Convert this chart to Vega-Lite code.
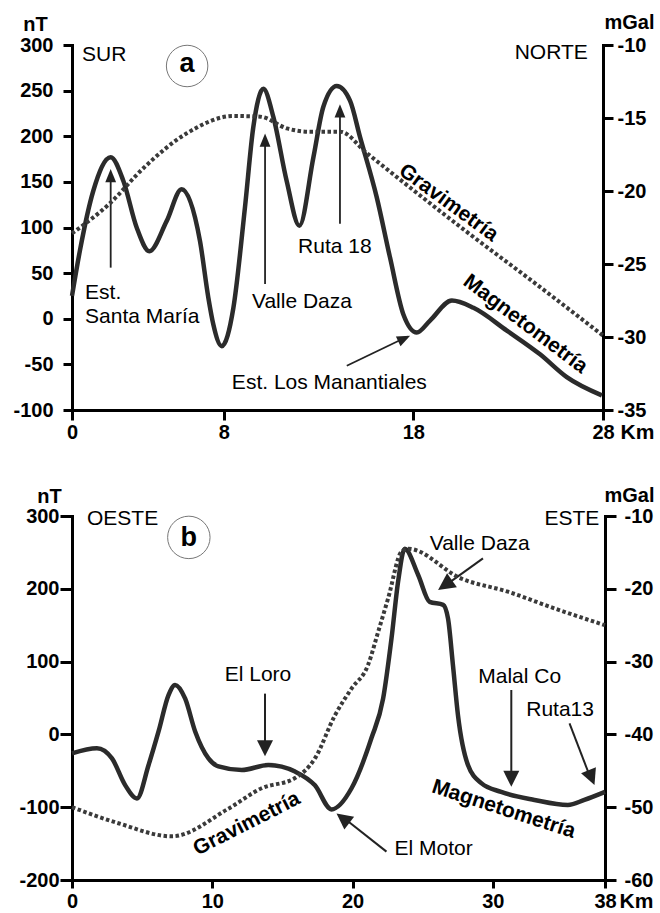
{
  "$schema": "https://vega.github.io/schema/vega-lite/v6.json",
  "background": "white",
  "padding": {"left": 12, "top": 12, "right": 2, "bottom": 0},
  "bounds": "flush",
  "spacing": 106,
  "config": {
    "view": {"stroke": null},
    "font": "Liberation Sans",
    "axis": {
      "grid": false, "domainColor": "black", "domainWidth": 3, "tickColor": "black", "tickWidth": 3,
      "labelFont": "Liberation Sans", "labelFontSize": 20, "labelFontWeight": "bold", "labelColor": "black",
      "titleFont": "Liberation Sans", "titleFontSize": 20, "titleFontWeight": "bold", "titleColor": "black",
      "labelFlush": false, "labelOverlap": false, "domainCap": "square",
      "labelExpr": "'' + datum.value"
    },
    "text": {"font": "Liberation Sans", "fontSize": 21, "color": "black"}
  },
  "vconcat": [
    {
      "width": 531, "height": 365,
      "encoding": {
        "x": {"field": "km", "type": "quantitative",
          "scale": {"domain": [0, 28], "nice": false, "zero": false},
          "axis": {"values": [0, 8, 18, 28], "tickSize": 10, "labelPadding": 2, "title": "Km", "titleAngle": 0, "titleX": 565, "titleY": 28, "titleAlign": "center", "titleBaseline": "alphabetic", "titleFontSize": 21}}
      },
      "layer": [
        {
          "encoding": {
            "y": {"field": "nT", "type": "quantitative",
              "scale": {"domain": [-100, 300], "nice": false, "zero": false},
              "axis": {"orient": "left", "values": [-100, -50, 0, 50, 100, 150, 200, 250, 300], "tickSize": 9, "labelPadding": 10, "title": "nT", "titleAngle": 0, "titleX": -37, "titleY": -15, "titleAlign": "center", "titleBaseline": "alphabetic"}}
          },
          "layer": [
            {
              "data": {"values": [
                {"km": 0, "nT": 25}, {"km": 0.42, "nT": 75}, {"km": 1.12, "nT": 140}, {"km": 2.04, "nT": 177},
                {"km": 2.71, "nT": 151}, {"km": 3.41, "nT": 100}, {"km": 4.08, "nT": 74}, {"km": 4.99, "nT": 107},
                {"km": 5.78, "nT": 142}, {"km": 6.75, "nT": 85}, {"km": 7.19, "nT": 23}, {"km": 7.45, "nT": -6},
                {"km": 7.9, "nT": -30}, {"km": 8.51, "nT": 12}, {"km": 9.12, "nT": 122}, {"km": 9.56, "nT": 210},
                {"km": 10.09, "nT": 252}, {"km": 10.62, "nT": 221}, {"km": 11.32, "nT": 151}, {"km": 11.99, "nT": 102},
                {"km": 12.73, "nT": 177}, {"km": 13.25, "nT": 232}, {"km": 13.96, "nT": 255}, {"km": 14.66, "nT": 239},
                {"km": 15.19, "nT": 199}, {"km": 16.07, "nT": 133}, {"km": 16.77, "nT": 67}, {"km": 17.47, "nT": 5},
                {"km": 18.18, "nT": -15}, {"km": 18.88, "nT": -2}, {"km": 20.03, "nT": 20}, {"km": 21.17, "nT": 12},
                {"km": 22.93, "nT": -13}, {"km": 24.68, "nT": -39}, {"km": 26.09, "nT": -64}, {"km": 27.94, "nT": -84}
              ]},
              "mark": {"type": "line", "interpolate": "monotone", "color": "#2b2b2b", "strokeWidth": 4.5}
            },
            {
              "data": {"values": [
                {"km": 2.04, "nT": 56, "km2": 2.04, "nT2": 160},
                {"km": 10.18, "nT": 38, "km2": 10.18, "nT2": 200},
                {"km": 14.13, "nT": 104, "km2": 14.13, "nT2": 232},
                {"km": 14.49, "nT": -51.5, "km2": 17.7, "nT2": -19.5}
              ]},
              "mark": {"type": "rule", "color": "#222", "strokeWidth": 1.8},
              "encoding": {"x2": {"field": "km2"}, "y2": {"field": "nT2"}}
            },
            {
              "data": {"values": [
                {"km": 2.04, "nT": 164}, {"km": 10.18, "nT": 203}, {"km": 14.13, "nT": 235}
              ]},
              "mark": {"type": "point", "shape": "M0,0L-0.45,1.1L0.45,1.1Z", "size": 576, "filled": true, "color": "#222", "opacity": 1, "strokeWidth": 0}
            },
            {
              "data": {"values": [{"km": 17.83, "nT": -18.6}]},
              "mark": {"type": "point", "shape": "M0,0L-0.45,1.1L0.45,1.1Z", "size": 576, "angle": 64.6, "filled": true, "color": "#222", "opacity": 1, "strokeWidth": 0}
            },
            {
              "data": {"values": [
                {"km": 0.53, "nT": 283, "label": "SUR"},
                {"km": 0.69, "nT": 22, "label": "Est.\nSanta María"},
                {"km": 9.49, "nT": 12, "label": "Valle Daza"},
                {"km": 11.92, "nT": 72, "label": "Ruta 18"},
                {"km": 8.43, "nT": -76.7, "label": "Est. Los Manantiales"}
              ]},
              "mark": {"type": "text", "align": "left", "baseline": "alphabetic", "lineBreak": "\n", "lineHeight": 24},
              "encoding": {"text": {"field": "label"}}
            },
            {
              "data": {"values": [{"km": 27.2, "nT": 285, "label": "NORTE"}]},
              "mark": {"type": "text", "align": "right", "baseline": "alphabetic"},
              "encoding": {"text": {"field": "label"}}
            },
            {
              "data": {"values": [{"km": 19.85, "nT": 127, "label": "Gravimetría"}]},
              "mark": {"type": "text", "align": "center", "baseline": "middle", "angle": 36, "fontWeight": "bold"},
              "encoding": {"text": {"field": "label"}}
            },
            {
              "data": {"values": [{"km": 23.9, "nT": -6, "label": "Magnetometría"}]},
              "mark": {"type": "text", "align": "center", "baseline": "middle", "angle": 37, "fontWeight": "bold"},
              "encoding": {"text": {"field": "label"}}
            },
            {
              "data": {"values": [{"km": 6.07, "nT": 277, "label": "a"}]},
              "layer": [
                {"mark": {"type": "point", "shape": "circle", "size": 1720, "filled": false, "stroke": "#777", "strokeWidth": 1, "opacity": 1}},
                {"mark": {"type": "text", "align": "center", "baseline": "middle", "fontSize": 27, "fontWeight": "bold", "dy": -2}, "encoding": {"text": {"field": "label"}}}
              ]
            }
          ]
        },
        {
          "data": {"values": [
            {"km": 0, "mGal": -22.9}, {"km": 2.0, "mGal": -20.84}, {"km": 3.76, "mGal": -18.44}, {"km": 6.05, "mGal": -16.05},
            {"km": 8.51, "mGal": -14.86}, {"km": 9.92, "mGal": -14.91}, {"km": 11.33, "mGal": -15.71}, {"km": 12.55, "mGal": -15.94},
            {"km": 14.14, "mGal": -15.94}, {"km": 15.54, "mGal": -17.4}, {"km": 20.82, "mGal": -22.8}, {"km": 24.5, "mGal": -26.4},
            {"km": 28, "mGal": -29.9}
          ]},
          "mark": {"type": "line", "interpolate": "monotone", "color": "#3a3a3a", "strokeWidth": 4, "strokeDash": [3.5, 2.5]},
          "encoding": {
            "y": {"field": "mGal", "type": "quantitative",
              "scale": {"domain": [-35, -10], "nice": false, "zero": false},
              "axis": {"orient": "right", "values": [-35, -30, -25, -20, -15, -10], "tickSize": 10, "labelPadding": 4, "title": "mGal", "titleAngle": 0, "titleX": 26, "titleY": -17, "titleAlign": "center", "titleBaseline": "alphabetic"}}
          }
        }
      ],
      "resolve": {"scale": {"y": "independent"}}
    },
    {
      "width": 533, "height": 364,
      "encoding": {
        "x": {"field": "km", "type": "quantitative",
          "scale": {"domain": [0, 38], "nice": false, "zero": false},
          "axis": {"values": [0, 10, 20, 30, 38], "tickSize": 8, "labelPadding": 3, "title": "Km", "titleAngle": 0, "titleX": 564, "titleY": 27, "titleAlign": "center", "titleBaseline": "alphabetic", "titleFontSize": 21}}
      },
      "layer": [
        {
          "encoding": {
            "y": {"field": "nT", "type": "quantitative",
              "scale": {"domain": [-200, 300], "nice": false, "zero": false},
              "axis": {"orient": "left", "values": [-200, -100, 0, 100, 200, 300], "tickSize": 12, "labelPadding": 1, "title": "nT", "titleAngle": 0, "titleX": -23, "titleY": -14, "titleAlign": "center", "titleBaseline": "alphabetic"}}
          },
          "layer": [
            {
              "data": {"values": [
                {"km": 0, "nT": -26}, {"km": 1.78, "nT": -19}, {"km": 2.85, "nT": -33}, {"km": 3.8, "nT": -70},
                {"km": 4.63, "nT": -88}, {"km": 5.46, "nT": -42}, {"km": 6.17, "nT": 4}, {"km": 6.88, "nT": 54},
                {"km": 7.35, "nT": 68}, {"km": 8.07, "nT": 49}, {"km": 8.78, "nT": 4}, {"km": 9.73, "nT": -33},
                {"km": 10.44, "nT": -44}, {"km": 12.1, "nT": -49}, {"km": 14.0, "nT": -42}, {"km": 15.9, "nT": -51},
                {"km": 17.32, "nT": -70}, {"km": 18.5, "nT": -103}, {"km": 19.93, "nT": -74}, {"km": 21.35, "nT": -5},
                {"km": 22.18, "nT": 49}, {"km": 22.78, "nT": 132}, {"km": 23.25, "nT": 210}, {"km": 23.72, "nT": 255},
                {"km": 24.68, "nT": 219}, {"km": 25.5, "nT": 182}, {"km": 26.46, "nT": 178}, {"km": 26.81, "nT": 159},
                {"km": 27.16, "nT": 95}, {"km": 27.52, "nT": 26}, {"km": 28.23, "nT": -42}, {"km": 29.18, "nT": -67},
                {"km": 30.6, "nT": -79}, {"km": 32.97, "nT": -90}, {"km": 35.35, "nT": -97}, {"km": 36.53, "nT": -90},
                {"km": 38, "nT": -79}
              ]},
              "mark": {"type": "line", "interpolate": "monotone", "color": "#2b2b2b", "strokeWidth": 4.5}
            },
            {
              "data": {"values": [
                {"km": 13.76, "nT": 56, "km2": 13.76, "nT2": -25},
                {"km": 31.32, "nT": 61, "km2": 31.32, "nT2": -67},
                {"km": 29.3, "nT": 241.8, "km2": 26.5, "nT2": 203},
                {"km": 35.47, "nT": 15, "km2": 37.05, "nT2": -64},
                {"km": 22.42, "nT": -161, "km2": 19.2, "nT2": -112}
              ]},
              "mark": {"type": "rule", "color": "#222", "strokeWidth": 2},
              "encoding": {"x2": {"field": "km2"}, "y2": {"field": "nT2"}}
            },
            {
              "data": {"values": [{"km": 13.76, "nT": -30}, {"km": 31.32, "nT": -72}]},
              "mark": {"type": "point", "shape": "M0,0L-0.5,1L0.5,1Z", "size": 1024, "angle": 180, "filled": true, "color": "#222", "opacity": 1, "strokeWidth": 0}
            },
            {
              "data": {"values": [{"km": 26.1, "nT": 198.2}]},
              "mark": {"type": "point", "shape": "M0,0L-0.5,1L0.5,1Z", "size": 1156, "angle": 234.8, "filled": true, "color": "#222", "opacity": 1, "strokeWidth": 0}
            },
            {
              "data": {"values": [{"km": 37.25, "nT": -69.6}]},
              "mark": {"type": "point", "shape": "M0,0L-0.5,1L0.5,1Z", "size": 1024, "angle": 158, "filled": true, "color": "#222", "opacity": 1, "strokeWidth": 0}
            },
            {
              "data": {"values": [{"km": 18.86, "nT": -108.5}]},
              "mark": {"type": "point", "shape": "M0,0L-0.5,1L0.5,1Z", "size": 1024, "angle": -52.5, "filled": true, "color": "#222", "opacity": 1, "strokeWidth": 0}
            },
            {
              "data": {"values": [
                {"km": 1.07, "nT": 287, "label": "OESTE"},
                {"km": 22.99, "nT": -166, "label": "El Motor"}
              ]},
              "mark": {"type": "text", "align": "left", "baseline": "alphabetic"},
              "encoding": {"text": {"field": "label"}}
            },
            {
              "data": {"values": [
                {"km": 13.26, "nT": 72.8, "label": "El Loro"},
                {"km": 29.07, "nT": 252.7, "label": "Valle Daza"},
                {"km": 31.92, "nT": 70, "label": "Malal Co"},
                {"km": 34.8, "nT": 24.7, "label": "Ruta13"}
              ]},
              "mark": {"type": "text", "align": "center", "baseline": "alphabetic"},
              "encoding": {"text": {"field": "label"}}
            },
            {
              "data": {"values": [{"km": 37.6, "nT": 287, "label": "ESTE"}]},
              "mark": {"type": "text", "align": "right", "baseline": "alphabetic"},
              "encoding": {"text": {"field": "label"}}
            },
            {
              "data": {"values": [{"km": 12.46, "nT": -123, "label": "Gravimetría"}]},
              "mark": {"type": "text", "align": "center", "baseline": "middle", "angle": -27, "fontWeight": "bold"},
              "encoding": {"text": {"field": "label"}}
            },
            {
              "data": {"values": [{"km": 30.77, "nT": -103, "label": "Magnetometría"}]},
              "mark": {"type": "text", "align": "center", "baseline": "middle", "angle": 18, "fontWeight": "bold"},
              "encoding": {"text": {"field": "label"}}
            },
            {
              "data": {"values": [{"km": 8.33, "nT": 270.6, "label": "b"}]},
              "layer": [
                {"mark": {"type": "point", "shape": "circle", "size": 1800, "filled": false, "stroke": "#777", "strokeWidth": 1, "opacity": 1}},
                {"mark": {"type": "text", "align": "center", "baseline": "middle", "fontSize": 27, "fontWeight": "bold", "dy": 1}, "encoding": {"text": {"field": "label"}}}
              ]
            }
          ]
        },
        {
          "data": {"values": [
            {"km": 0, "mGal": -50.0}, {"km": 3.3, "mGal": -52.2}, {"km": 7.12, "mGal": -54.0}, {"km": 11.15, "mGal": -50.2},
            {"km": 13.52, "mGal": -47.4}, {"km": 15.9, "mGal": -46.0}, {"km": 17.32, "mGal": -43.3}, {"km": 18.74, "mGal": -37.4},
            {"km": 19.93, "mGal": -33.7}, {"km": 21.1, "mGal": -30.5}, {"km": 21.83, "mGal": -25.9}, {"km": 22.54, "mGal": -21.3},
            {"km": 23.49, "mGal": -14.9}, {"km": 23.96, "mGal": -14.5}, {"km": 27.76, "mGal": -18.6}, {"km": 31.08, "mGal": -20.4},
            {"km": 34.4, "mGal": -22.7}, {"km": 38, "mGal": -25.0}
          ]},
          "mark": {"type": "line", "interpolate": "monotone", "color": "#3a3a3a", "strokeWidth": 4, "strokeDash": [3.5, 2.5]},
          "encoding": {
            "y": {"field": "mGal", "type": "quantitative",
              "scale": {"domain": [-60, -10], "nice": false, "zero": false},
              "axis": {"orient": "right", "values": [-60, -50, -40, -30, -20, -10], "tickSize": 11, "labelPadding": 8, "title": "mGal", "titleAngle": 0, "titleX": 24, "titleY": -15, "titleAlign": "center", "titleBaseline": "alphabetic"}}
          }
        }
      ],
      "resolve": {"scale": {"y": "independent"}}
    }
  ]
}
